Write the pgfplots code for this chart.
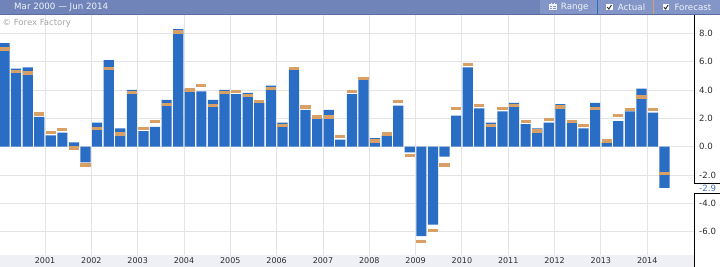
\documentclass[border=0pt]{standalone}
\usepackage{pgfplots}
\pgfplotsset{compat=1.18}
\usepackage{pgfplotstable}
\usepackage{fontspec}
\setmainfont{DejaVu Sans}
\definecolor{ffblue}{RGB}{42,109,197}
\definecolor{fforange}{RGB}{216,160,100}
\definecolor{gridc}{RGB}{228,228,230}
\definecolor{stripc}{RGB}{238,240,245}
\definecolor{txtc}{RGB}{45,45,45}
\definecolor{hdrl}{RGB}{112,132,185}
\definecolor{hdrr}{RGB}{131,150,199}
\definecolor{hdrb}{RGB}{92,110,160}
\definecolor{hdrt}{RGB}{240,243,250}
\definecolor{labblue}{RGB}{70,115,180}

\pgfplotstableread{
x actual forecast
0.5 7.3 6.9
1.5 5.5 5.3
2.5 5.6 5.2
3.5 2.1 2.3
4.5 0.8 1.0
5.5 1.0 1.2
6.5 0.3 -0.1
7.5 -1.1 -1.3
8.5 1.7 1.3
9.5 6.1 5.5
10.5 1.3 0.9
11.5 4.0 3.8
12.5 1.1 1.3
13.5 1.4 1.8
14.5 3.3 3.0
15.5 8.3 8.1
16.5 4.1 4.0
17.5 3.9 4.3
18.5 3.3 2.9
19.5 4.0 3.8
20.5 3.7 3.9
21.5 3.8 3.6
22.5 3.1 3.2
23.5 4.3 4.1
24.5 1.7 1.5
25.5 5.4 5.5
26.5 2.6 2.8
27.5 2.0 2.1
28.5 2.6 2.1
29.5 0.5 0.7
30.5 3.7 3.9
31.5 4.7 4.8
32.5 0.6 0.4
33.5 0.8 0.9
34.5 2.9 3.2
35.5 -0.4 -0.6
36.5 -6.3 -6.7
37.5 -5.5 -5.9
38.5 -0.7 -1.3
39.5 2.2 2.7
40.5 5.6 5.8
41.5 2.7 2.9
42.5 1.7 1.5
43.5 2.5 2.7
44.5 3.1 2.9
45.5 1.6 1.8
46.5 1.3 1.1
47.5 1.7 1.9
48.5 3.0 2.8
49.5 1.7 1.8
50.5 1.3 1.5
51.5 3.1 2.7
52.5 0.3 0.4
53.5 1.8 2.2
54.5 2.5 2.6
55.5 4.1 3.5
56.5 2.4 2.6
57.5 -2.9 -1.9
}\gdpdata

\pgfdeclareplotmark{fc}{\pgfpathrectangle{\pgfqpoint{-5.1pt}{-1.65pt}}{\pgfqpoint{10.2pt}{3.3pt}}\pgfusepathqfill}

\begin{document}
\begin{tikzpicture}[x=1pt,y=1pt]
\useasboundingbox (0,0) rectangle (720,267);
\fill[white] (0,0) rectangle (720,267);
% bottom strip
\fill[stripc] (0,0) rectangle (694,12);
\begin{axis}[
  at={(0pt,12pt)}, anchor=south west,
  scale only axis, width=694pt, height=240pt,
  xmin=0.112, xmax=60.04, ymin=-7.64, ymax=9.29,
  axis line style={draw=none},
  major tick length=0pt,
  xtick={4,8,...,56},
  xticklabels={2001,2002,2003,2004,2005,2006,2007,2008,2009,2010,2011,2012,2013,2014},
  ytick={-6,-4,-2,0,2,4,6,8},
  yticklabels={-6.0,-4.0,-2.0,0.0,2.0,4.0,6.0,8.0},
  yticklabel pos=right,
  xmajorgrids, ymajorgrids,
  grid style={draw=gridc, line width=0.9pt},
  xticklabel style={font=\fontsize{8}{9}\selectfont, text=txtc, anchor=center, yshift=-6pt, inner sep=0pt},
  yticklabel style={font=\fontsize{8.6}{10}\selectfont, text=txtc, anchor=west, xshift=5pt, inner sep=0pt},
]
\addplot[ybar, bar width=0.88, bar shift=0pt, fill=ffblue, draw=none] table[x=x, y=actual] {\gdpdata};
\addplot[only marks, mark=fc, color=fforange] table[x=x, y=forecast] {\gdpdata};
\end{axis}
% right axis line with flag for -2.9
\draw[black, line width=0.9pt] (694,252) -- (694,83.7) -- (720,83.7);
\draw[black, line width=0.9pt] (720,73.7) -- (694,73.7) -- (694,0);
\node[anchor=west, inner sep=0pt, text=labblue, font=\fontsize{8.6}{10}\selectfont] at (699,78.7) {-2.9};
% watermark
\node[anchor=west, inner sep=0pt, text=black!35, font=\fontsize{8.5}{10}\selectfont] at (2.5,243.7) {© Forex Factory};
% header
\fill[hdrl] (0,252) rectangle (720,267);
\fill[hdrr] (540,252) rectangle (720,267);
\fill[hdrb] (0,252) rectangle (720,253);
\fill[ffblue] (596.5,253) rectangle (598,267);
\fill[fforange] (652.5,253) rectangle (654,267);
\node[anchor=west, inner sep=0pt, text=hdrt, font=\fontsize{8.7}{10}\selectfont] at (14,260) {Mar 2000 — Jun 2014};
\node[anchor=west, inner sep=0pt, text=hdrt, font=\fontsize{8.7}{10}\selectfont] at (560.7,260) {Range};
\node[anchor=west, inner sep=0pt, text=hdrt, font=\fontsize{8.7}{10}\selectfont] at (617.7,260) {Actual};
\node[anchor=west, inner sep=0pt, text=hdrt, font=\fontsize{8.7}{10}\selectfont] at (674.3,260) {Forecast};
% calendar icon
\draw[hdrt, line width=0.7pt] (549.5,257.3) rectangle (556,262.3);
\fill[hdrt] (549.5,261) rectangle (556,263);
\draw[hdrt, line width=0.7pt] (551,263) -- (551,264.2) (554.5,263) -- (554.5,264.2);
\draw[hdrt, line width=0.5pt] (549.5,259.8) -- (556,259.8) (552.7,257.3) -- (552.7,262.3);
% checkboxes
\fill[white] (606,256.5) rectangle (612.5,263);
\draw[black!80, line width=1pt] (607.2,259.8) -- (608.9,258) -- (611.4,262);
\fill[white] (662.7,256.5) rectangle (669.2,263);
\draw[black!80, line width=1pt] (663.9,259.8) -- (665.6,258) -- (668.1,262);
\end{tikzpicture}
\end{document}
